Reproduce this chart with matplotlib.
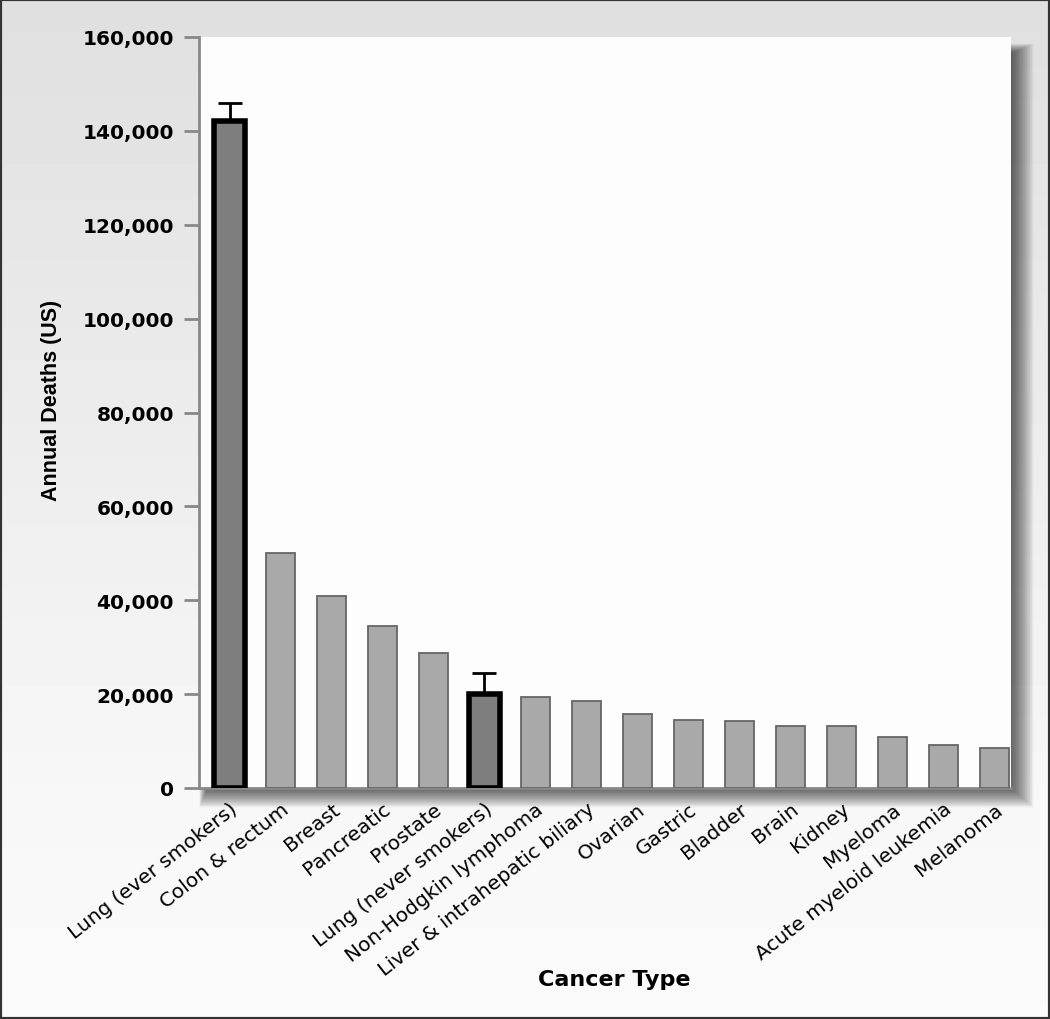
import matplotlib
matplotlib.use("Agg")
import matplotlib.pyplot as plt
import matplotlib.patches as pth
import numpy as np

# data
cancer_types = ["Lung (ever smokers)", "Colon & rectum", "Breast", "Pancreatic",
                "Prostate", "Lung (never smokers)", "Non-Hodgkin lymphoma",
                "Liver & intrahepatic biliary", "Ovarian", "Gastric", "Bladder",
                "Brain", "Kidney", "Myeloma", "Acute myeloid leukemia", "Melanoma"]
deaths = [142000, 50000, 41000, 34600, 28700, 20000, 19300, 18500,
          15700, 14500, 14200, 13200, 13200, 10900, 9200, 8600]
lung_idx = [0, 5]
lung_err_up = [4000, 4600]
yticks = [0, 20000, 40000, 60000, 80000, 100000, 120000, 140000, 160000]

W, H = 1050, 1020
fig = plt.figure(figsize=(W / 100, H / 100), dpi=100)

# background gradient (grey at top, almost white at the bottom)
bg = fig.add_axes([0, 0, 1, 1], zorder=-10)
bg.axis("off")
rows = np.linspace(0, 1, 300)
shade = np.where(rows < 0.78, 0.875 + rows / 0.78 * 0.095, 0.97 + (rows - 0.78) * 0.05)
bg.imshow(shade[:, None], cmap="gray", vmin=0, vmax=1, aspect="auto",
          extent=[0, 1, 0, 1], interpolation="bilinear")

# axes position in pixels
ax_l, ax_r, ax_t, ax_b = 199, 1011, 38, 789
ax = fig.add_axes([ax_l / W, 1 - ax_b / H, (ax_r - ax_l) / W, (ax_b - ax_t) / H], zorder=0)

# soft drop shadow on the right and bottom of the plot panel
for i in range(32):
    left = ax_l + 8 - i * 0.25
    top = ax_t + 16 - i * 0.3
    right = ax_r + 1 + i * 0.7
    bottom = ax_b + 1 + i * 0.6
    rect = pth.Rectangle((left / W, 1 - bottom / H), (right - left) / W,
                         (bottom - top) / H, transform=fig.transFigure,
                         facecolor="black", edgecolor="none", alpha=0.024, zorder=-5)
    fig.patches.append(rect)

ax.set_facecolor("#fdfdfd")
x = np.arange(len(cancer_types))
face = ["#7e7e7e" if i in lung_idx else "#a9a9a9" for i in x]
edge = ["black" if i in lung_idx else "#666666" for i in x]
lw = [4.0 if i in lung_idx else 1.3 for i in x]
widths = [0.62 if i in lung_idx else 0.57 for i in x]

lung_vals = [deaths[i] for i in lung_idx]
ax.errorbar(lung_idx, lung_vals, yerr=[[0] * len(lung_idx), lung_err_up], fmt="none",
            ecolor="black", elinewidth=2, capsize=8.5, capthick=2, zorder=2)
ax.bar(x, deaths, width=widths, color=face, edgecolor=edge, linewidth=lw, zorder=3)

ax.set_xlim(-0.6, 15.33)
ax.set_ylim(0, 160000)
ax.set_yticks(yticks)
ax.set_yticklabels([f"{v:,}" for v in yticks], fontsize=14.5, fontweight="bold")
ax.set_xticks(x)
ax.set_xticklabels(cancer_types, rotation=38, ha="right", va="top",
                   rotation_mode="anchor", fontsize=14.5)

ax.tick_params(axis="y", direction="out", length=11, width=2, color="#888888", pad=7)
ax.tick_params(axis="x", length=0, pad=8)
for s in ["top", "right"]:
    ax.spines[s].set_visible(False)
for s in ["left", "bottom"]:
    ax.spines[s].set_color("#888888")
    ax.spines[s].set_linewidth(2)

fig.text(52 / W, 1 - 400 / H, "Annual Deaths (US)", rotation=90, ha="center",
         va="center", fontsize=15.5, fontweight="bold",
         family=["Liberation Sans", "DejaVu Sans"])
fig.text(614 / W, 1 - 980 / H, "Cancer Type", ha="center", va="center",
         fontsize=16, fontweight="bold")

# dark frame round the whole picture
fig.patches.append(pth.Rectangle((0, 0), 1, 1, transform=fig.transFigure, fill=False,
                                 edgecolor="#333333", linewidth=3, zorder=10))

fig.savefig("out.png", dpi=100)
